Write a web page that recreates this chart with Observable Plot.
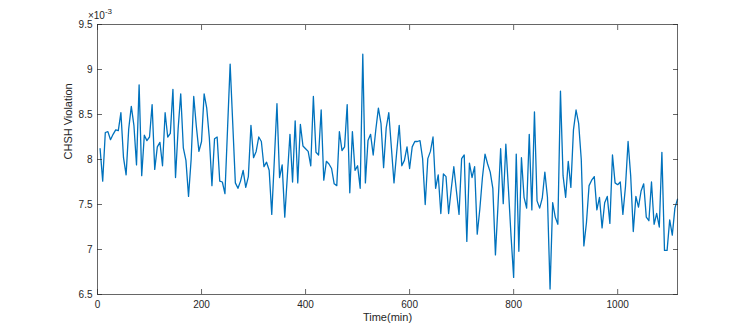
<!DOCTYPE html>
<html>
<head>
<meta charset="utf-8">
<script src="https://cdn.jsdelivr.net/npm/d3@7"></script>
<script src="https://cdn.jsdelivr.net/npm/@observablehq/plot@0.6"></script>
<style>
  html, body { margin: 0; padding: 0; background: #fff; }
  #chart { width: 747px; height: 330px; }
</style>
</head>
<body>
<div id="chart"></div>
<script>
// Sample times (min)
const timeMin = [
  5,10,15,20,25,30,35,40,45,50,55,60,65,70,75,80,85,90,95,100,
  105,110,115,120,125,130,135,140,145,150,155,160,165,170,175,180,185,190,195,200,
  205,210,215,220,225,230,235,240,245,250,255,260,265,270,275,280,285,290,295,300,
  305,310,315,320,325,330,335,340,345,350,355,360,365,370,375,380,385,390,395,400,
  405,410,415,420,425,430,435,440,445,450,455,460,465,470,475,480,485,490,495,500,
  505,510,515,520,525,530,535,540,545,550,555,560,565,570,575,580,585,590,595,600,
  605,610,615,620,625,630,635,640,645,650,655,660,665,670,675,680,685,690,695,700,
  705,710,715,720,725,730,735,740,745,750,755,760,765,770,775,780,785,790,795,800,
  805,810,815,820,825,830,835,840,845,850,855,860,865,870,875,880,885,890,895,900,
  905,910,915,920,925,930,935,940,945,950,955,960,965,970,975,980,985,990,995,1000,
  1005,1010,1015,1020,1025,1030,1035,1040,1045,1050,1055,1060,1065,1070,1075,1080,1085,1090,1095,1100,
  1105,1110,1115
];
// CHSH violation (x 10^-3)
const chshViolation = [
  8.12,7.76,8.30,8.31,8.22,8.28,8.33,8.32,8.52,8.02,7.83,8.34,8.59,8.38,7.94,8.83,7.82,8.27,8.21,8.25,
  8.61,7.89,8.14,8.19,7.93,8.52,8.25,8.29,8.78,7.80,8.34,8.73,8.13,7.99,7.59,8.00,8.70,8.37,8.09,8.20,
  8.73,8.57,8.24,7.71,8.23,8.25,7.76,7.75,7.62,8.34,9.06,8.40,7.74,7.68,7.76,7.88,7.69,7.81,8.38,8.02,
  8.09,8.25,8.20,7.92,7.97,7.88,7.39,8.00,8.62,7.80,7.94,7.36,7.82,8.28,7.75,8.43,7.74,8.39,8.15,8.12,
  8.09,7.93,8.70,8.08,8.05,8.55,7.77,7.98,7.95,7.90,7.73,7.71,8.31,8.10,8.14,8.61,7.63,8.31,7.88,7.93,
  7.68,9.17,7.74,8.21,8.28,8.05,8.33,8.57,8.40,7.91,8.35,8.52,8.13,7.74,8.07,8.38,7.93,7.99,8.14,7.90,
  8.14,8.20,8.20,8.21,8.01,7.50,8.01,8.09,8.25,7.68,7.83,7.40,7.84,7.81,7.40,7.67,7.92,7.65,7.39,8.01,
  8.05,7.09,7.96,7.80,7.92,7.17,7.45,7.80,8.06,7.95,7.86,7.68,6.94,7.50,8.12,7.51,8.17,7.67,7.15,6.69,
  8.06,6.98,8.02,7.58,7.46,8.28,7.44,8.53,7.54,7.46,7.57,7.86,7.58,6.56,7.52,7.36,7.28,8.76,7.82,7.58,
  7.98,7.69,8.33,8.55,8.40,8.00,7.04,7.30,7.71,7.77,7.81,7.44,7.58,7.24,7.52,7.59,7.29,8.05,7.74,7.72,
  7.75,7.39,7.70,8.20,7.82,7.20,7.59,7.47,7.65,7.73,7.36,7.32,7.75,7.28,7.40,7.25,8.08,6.99,6.99,7.33,
  7.16,7.46,7.56
];
const xTicks = [0, 200, 400, 600, 800, 1000];
const xTickLabels = ["0", "200", "400", "600", "800", "1000"];
const yTicks = [6.5, 7, 7.5, 8, 8.5, 9, 9.5];
const yTickLabels = ["6.5", "7", "7.5", "8", "8.5", "9", "9.5"];
const xLabel = "Time(min)";
const yLabel = "CHSH Violation";

const data = timeMin.map((t, i) => ({t, v: chshViolation[i]}));
const axisColor = "#262626";
const fmtX = d => xTickLabels[xTicks.indexOf(d)];
const fmtY = d => yTickLabels[yTicks.indexOf(d)];

const chart = Plot.plot({
  width: 747,
  height: 330,
  marginLeft: 97,
  marginRight: 70,
  marginTop: 24,
  marginBottom: 36,
  style: {fontFamily: "'Liberation Sans', Arial, Helvetica, sans-serif", fontSize: "10px", color: axisColor, background: "#fff"},
  x: {domain: [0, 1115]},
  y: {domain: [6.5, 9.5]},
  marks: [
    Plot.line(data, {x: "t", y: "v", stroke: "#0072BD", strokeWidth: 1.3}),
    Plot.frame({stroke: axisColor, strokeWidth: 0.7}),
    // tick labels
    Plot.axisX({ticks: xTicks, tickFormat: fmtX, tickSize: 0, tickPadding: 6, label: null, fontSize: 10}),
    Plot.axisY({ticks: yTicks, tickFormat: fmtY, tickSize: 0, tickPadding: 5, label: null, fontSize: 10}),
    // inward ticks on all four sides
    Plot.axisX({ticks: xTicks, tickFormat: () => "", tickSize: -5, label: null, stroke: axisColor, strokeWidth: 0.7}),
    Plot.axisX({anchor: "top", ticks: xTicks, tickFormat: () => "", tickSize: -5, label: null, stroke: axisColor, strokeWidth: 0.7}),
    Plot.axisY({ticks: yTicks, tickFormat: () => "", tickSize: -5, label: null, stroke: axisColor, strokeWidth: 0.7}),
    Plot.axisY({anchor: "right", ticks: yTicks, tickFormat: () => "", tickSize: -5, label: null, stroke: axisColor, strokeWidth: 0.7}),
    // axis titles
    Plot.text([xLabel], {frameAnchor: "bottom", text: d => d, dy: 26, fontSize: 11, fill: axisColor}),
    Plot.text([yLabel], {frameAnchor: "left", text: d => d, rotate: -90, dx: -29, fontSize: 11, fill: axisColor})
  ]
});
document.getElementById("chart").appendChild(chart);

// exponent label (x10^-3) above the top-left corner of the axes
const svg = d3.select(chart.tagName.toLowerCase() === "svg" ? chart : chart.querySelector("svg"));
const expText = svg.append("text")
  .attr("x", 100).attr("y", 19)
  .attr("fill", axisColor)
  .attr("font-size", 10)
  .attr("font-family", "'Liberation Sans', Arial, sans-serif");
expText.append("tspan").text("\u00d710");
expText.append("tspan").attr("dy", -5).attr("font-size", 8).text("-3");
</script>
</body>
</html>
